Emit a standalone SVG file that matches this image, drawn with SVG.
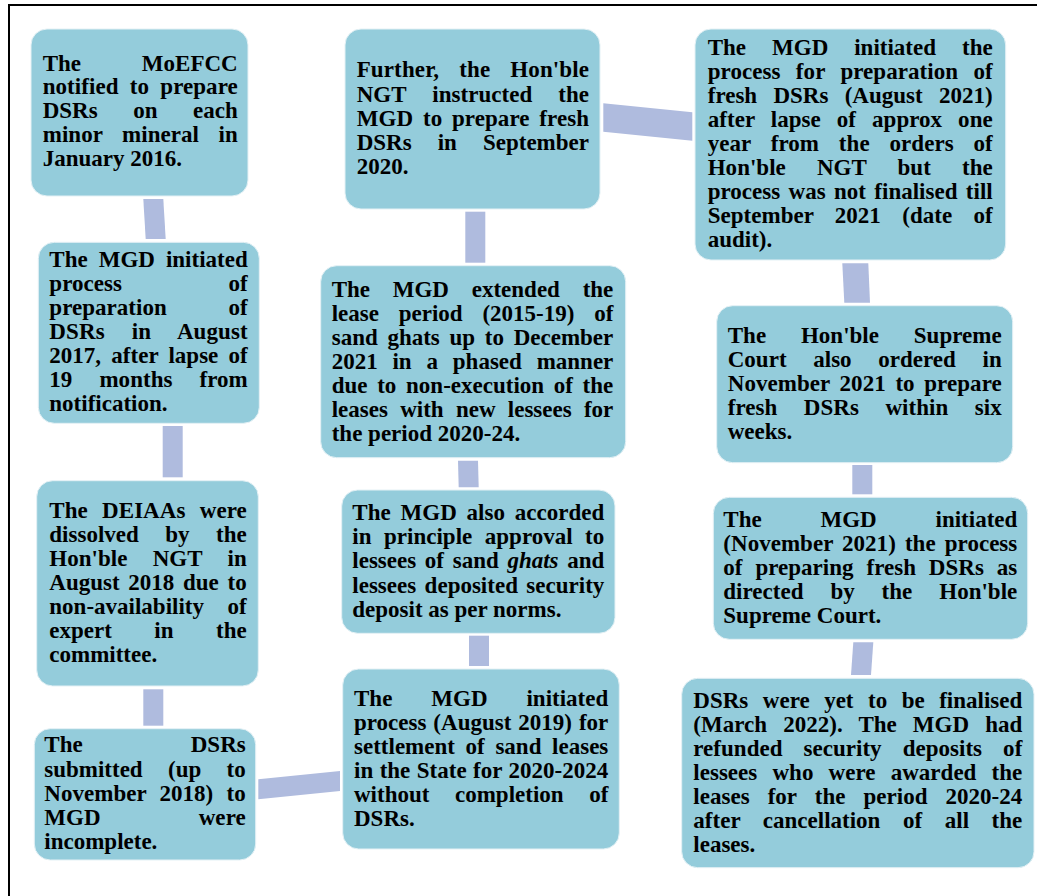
<svg xmlns="http://www.w3.org/2000/svg" width="1037" height="896" viewBox="0 0 1037 896">
<style>
.box{fill:#94CCDB;stroke:#E4F1F5;stroke-width:1}
.t{font-family:"Liberation Serif","Times New Roman",serif;font-weight:bold;font-size:23px;fill:#000}
.c{fill:#AFBBDE}
</style>
<rect x="9" y="5" width="1100" height="1000" fill="#fff" stroke="#000" stroke-width="2"/>
<g id="connectors">
<polygon class="c" points="143.3,199 163.3,199 165.7,239 145.7,239"/>
<rect class="c" x="162.7" y="426" width="20" height="51.3"/>
<rect class="c" x="143.3" y="689.3" width="20" height="36.4"/>
<polygon class="c" points="258.3,779.3 340,771 340,791 258.3,799.3"/>
<rect class="c" x="469" y="635.7" width="20" height="30.3"/>
<polygon class="c" points="458,460.7 478,460.7 478.7,487.3 458.7,487.3"/>
<rect class="c" x="465.3" y="211.7" width="20" height="51"/>
<polygon class="c" points="603.3,103.3 692.3,112.3 692.3,140.7 603.3,131.7"/>
<polygon class="c" points="842.3,263.3 868.3,263.3 870,302.7 844.3,302.7"/>
<rect class="c" x="852.3" y="465" width="20" height="29.3"/>
<polygon class="c" points="853.3,642.3 873.3,642.3 871,675 851,675"/>
</g>
<g id="n1">
<rect class="box" x="31" y="29" width="217" height="167" rx="16"/>
<text class="t" x="42.7" y="70.7" textLength="195" lengthAdjust="spacing" style="word-spacing:55px">The MoEFCC</text>
<text class="t" x="42.7" y="94.45" textLength="195" lengthAdjust="spacing" style="word-spacing:5.5px">notified to prepare</text>
<text class="t" x="42.7" y="118.2" textLength="195" lengthAdjust="spacing" style="word-spacing:29.8px">DSRs on each</text>
<text class="t" x="42.7" y="141.95" textLength="195" lengthAdjust="spacing" style="word-spacing:13.8px">minor mineral in</text>
<text class="t" x="42.7" y="165.7">January 2016.</text>
</g>
<g id="n2">
<rect class="box" x="38.3" y="242.3" width="221" height="181" rx="16"/>
<text class="t" x="49.3" y="266.7" textLength="198.4" lengthAdjust="spacing" style="word-spacing:5.3px">The MGD initiated</text>
<text class="t" x="49.3" y="290.75" textLength="198.4" lengthAdjust="spacing" style="word-spacing:100.7px">process of</text>
<text class="t" x="49.3" y="314.8" textLength="198.4" lengthAdjust="spacing" style="word-spacing:55.9px">preparation of</text>
<text class="t" x="49.3" y="338.85" textLength="198.4" lengthAdjust="spacing" style="word-spacing:21.2px">DSRs in August</text>
<text class="t" x="49.3" y="362.9" textLength="198.4" lengthAdjust="spacing" style="word-spacing:4.4px">2017, after lapse of</text>
<text class="t" x="49.3" y="386.95" textLength="198.4" lengthAdjust="spacing" style="word-spacing:21.3px">19 months from</text>
<text class="t" x="49.3" y="411">notification.</text>
</g>
<g id="n3">
<rect class="box" x="36.7" y="480.7" width="221.6" height="205.3" rx="16"/>
<text class="t" x="49.3" y="518.3" textLength="197.4" lengthAdjust="spacing" style="word-spacing:8.6px">The DEIAAs were</text>
<text class="t" x="49.3" y="542.3" textLength="197.4" lengthAdjust="spacing" style="word-spacing:20.7px">dissolved by the</text>
<text class="t" x="49.3" y="566.3" textLength="197.4" lengthAdjust="spacing" style="word-spacing:19.5px">Hon'ble NGT in</text>
<text class="t" x="49.3" y="590.3" textLength="197.4" lengthAdjust="spacing" style="word-spacing:3px">August 2018 due to</text>
<text class="t" x="49.3" y="614.3" textLength="197.4" lengthAdjust="spacing" style="word-spacing:17.8px">non-availability of</text>
<text class="t" x="49.3" y="638.3" textLength="197.4" lengthAdjust="spacing" style="word-spacing:36.7px">expert in the</text>
<text class="t" x="49.3" y="662.3">committee.</text>
</g>
<g id="n4">
<rect class="box" x="34.3" y="728.7" width="221.4" height="131.3" rx="16"/>
<text class="t" x="44.3" y="752.3" textLength="201.4" lengthAdjust="spacing" style="word-spacing:102.4px">The DSRs</text>
<text class="t" x="44.3" y="776.5" textLength="201.4" lengthAdjust="spacing" style="word-spacing:19.6px">submitted (up to</text>
<text class="t" x="44.3" y="800.7" textLength="201.4" lengthAdjust="spacing" style="word-spacing:7.5px">November 2018) to</text>
<text class="t" x="44.3" y="824.9" textLength="201.4" lengthAdjust="spacing" style="word-spacing:92.2px">MGD were</text>
<text class="t" x="44.3" y="849">incomplete.</text>
</g>
<g id="n5">
<rect class="box" x="345" y="29" width="255" height="180" rx="16"/>
<text class="t" x="356.7" y="77.3" textLength="232.3" lengthAdjust="spacing" style="word-spacing:14.2px">Further, the Hon'ble</text>
<text class="t" x="356.7" y="101.5" textLength="232.3" lengthAdjust="spacing" style="word-spacing:20.3px">NGT instructed the</text>
<text class="t" x="356.7" y="125.7" textLength="232.3" lengthAdjust="spacing" style="word-spacing:4px">MGD to prepare fresh</text>
<text class="t" x="356.7" y="149.9" textLength="232.3" lengthAdjust="spacing" style="word-spacing:20.3px">DSRs in September</text>
<text class="t" x="356.7" y="174">2020.</text>
</g>
<g id="n6">
<rect class="box" x="320.7" y="265.7" width="305" height="192" rx="16"/>
<text class="t" x="331.7" y="296.7" textLength="281.6" lengthAdjust="spacing" style="word-spacing:17px">The MGD extended the</text>
<text class="t" x="331.7" y="320.7" textLength="281.6" lengthAdjust="spacing" style="word-spacing:14px">lease period (2015-19) of</text>
<text class="t" x="331.7" y="344.7" textLength="281.6" lengthAdjust="spacing" style="word-spacing:3.95px">sand ghats up to December</text>
<text class="t" x="331.7" y="368.7" textLength="281.6" lengthAdjust="spacing" style="word-spacing:9.1px">2021 in a phased manner</text>
<text class="t" x="331.7" y="392.7" textLength="281.6" lengthAdjust="spacing" style="word-spacing:3.95px">due to non-execution of the</text>
<text class="t" x="331.7" y="416.7" textLength="281.6" lengthAdjust="spacing" style="word-spacing:6.5px">leases with new lessees for</text>
<text class="t" x="331.7" y="440.7">the period 2020-24.</text>
</g>
<g id="n7">
<rect class="box" x="341.7" y="490" width="273.3" height="143.3" rx="16"/>
<text class="t" x="352.3" y="520" textLength="252" lengthAdjust="spacing" style="word-spacing:4.1px">The MGD also accorded</text>
<text class="t" x="352.3" y="544.2" textLength="252" lengthAdjust="spacing" style="word-spacing:6.7px">in principle approval to</text>
<text class="t" x="352.3" y="568.4" textLength="252" lengthAdjust="spacing" style="word-spacing:2.9px">lessees of sand <tspan font-style="italic">ghats</tspan> and</text>
<text class="t" x="352.3" y="592.6" textLength="252" lengthAdjust="spacing" style="word-spacing:2.7px">lessees deposited security</text>
<text class="t" x="352.3" y="616.7">deposit as per norms.</text>
</g>
<g id="n8">
<rect class="box" x="342.7" y="669" width="276.6" height="180" rx="16"/>
<text class="t" x="354" y="706" textLength="254.3" lengthAdjust="spacing" style="word-spacing:33.2px">The MGD initiated</text>
<text class="t" x="354" y="729.9" textLength="254.3" lengthAdjust="spacing" style="word-spacing:1.1px">process (August 2019) for</text>
<text class="t" x="354" y="753.8" textLength="254.3" lengthAdjust="spacing" style="word-spacing:4.9px">settlement of sand leases</text>
<text class="t" x="354" y="777.7" textLength="254.3" lengthAdjust="spacing" style="word-spacing:0.65px">in the State for 2020-2024</text>
<text class="t" x="354" y="801.6" textLength="254.3" lengthAdjust="spacing" style="word-spacing:19.8px">without completion of</text>
<text class="t" x="354" y="825.7">DSRs.</text>
</g>
<g id="n9">
<rect class="box" x="695" y="29" width="310.7" height="231" rx="16"/>
<text class="t" x="707.7" y="55" textLength="285" lengthAdjust="spacing" style="word-spacing:20.2px">The MGD initiated the</text>
<text class="t" x="707.7" y="79" textLength="285" lengthAdjust="spacing" style="word-spacing:9.6px">process for preparation of</text>
<text class="t" x="707.7" y="102.9" textLength="285" lengthAdjust="spacing" style="word-spacing:10.5px">fresh DSRs (August 2021)</text>
<text class="t" x="707.7" y="126.9" textLength="285" lengthAdjust="spacing" style="word-spacing:10.2px">after lapse of approx one</text>
<text class="t" x="707.7" y="150.8" textLength="285" lengthAdjust="spacing" style="word-spacing:14.1px">year from the orders of</text>
<text class="t" x="707.7" y="174.8" textLength="285" lengthAdjust="spacing" style="word-spacing:25.3px">Hon'ble NGT but the</text>
<text class="t" x="707.7" y="198.8" textLength="285" lengthAdjust="spacing" style="word-spacing:2.6px">process was not finalised till</text>
<text class="t" x="707.7" y="222.7" textLength="285" lengthAdjust="spacing" style="word-spacing:15.6px">September 2021 (date of</text>
<text class="t" x="707.7" y="246.7">audit).</text>
</g>
<g id="n10">
<rect class="box" x="716.7" y="305.7" width="296" height="157" rx="16"/>
<text class="t" x="727.7" y="343.3" textLength="274" lengthAdjust="spacing" style="word-spacing:29px">The Hon'ble Supreme</text>
<text class="t" x="727.7" y="367.3" textLength="274" lengthAdjust="spacing" style="word-spacing:20.8px">Court also ordered in</text>
<text class="t" x="727.7" y="391.3" textLength="274" lengthAdjust="spacing" style="word-spacing:3.8px">November 2021 to prepare</text>
<text class="t" x="727.7" y="415.3" textLength="274" lengthAdjust="spacing" style="word-spacing:20.8px">fresh DSRs within six</text>
<text class="t" x="727.7" y="439.3">weeks.</text>
</g>
<g id="n11">
<rect class="box" x="713.3" y="497.3" width="314.4" height="142" rx="16"/>
<text class="t" x="723.3" y="526.7" textLength="294" lengthAdjust="spacing" style="word-spacing:53.1px">The MGD initiated</text>
<text class="t" x="723.3" y="550.85" textLength="294" lengthAdjust="spacing" style="word-spacing:3.3px">(November 2021) the process</text>
<text class="t" x="723.3" y="575" textLength="294" lengthAdjust="spacing" style="word-spacing:7.1px">of preparing fresh DSRs as</text>
<text class="t" x="723.3" y="599.15" textLength="294" lengthAdjust="spacing" style="word-spacing:21.1px">directed by the Hon'ble</text>
<text class="t" x="723.3" y="623.3">Supreme Court.</text>
</g>
<g id="n12">
<rect class="box" x="681.7" y="678.3" width="352.3" height="189.4" rx="16"/>
<text class="t" x="693.3" y="708.3" textLength="329" lengthAdjust="spacing" style="word-spacing:8.7px">DSRs were yet to be finalised</text>
<text class="t" x="693.3" y="732.3" textLength="329" lengthAdjust="spacing" style="word-spacing:10.2px">(March 2022). The MGD had</text>
<text class="t" x="693.3" y="756.3" textLength="329" lengthAdjust="spacing" style="word-spacing:15.3px">refunded security deposits of</text>
<text class="t" x="693.3" y="780.3" textLength="329" lengthAdjust="spacing" style="word-spacing:9.4px">lessees who were awarded the</text>
<text class="t" x="693.3" y="804.3" textLength="329" lengthAdjust="spacing" style="word-spacing:12.3px">leases for the period 2020-24</text>
<text class="t" x="693.3" y="828.3" textLength="329" lengthAdjust="spacing" style="word-spacing:16.8px">after cancellation of all the</text>
<text class="t" x="693.3" y="852.3">leases.</text>
</g>
</svg>
